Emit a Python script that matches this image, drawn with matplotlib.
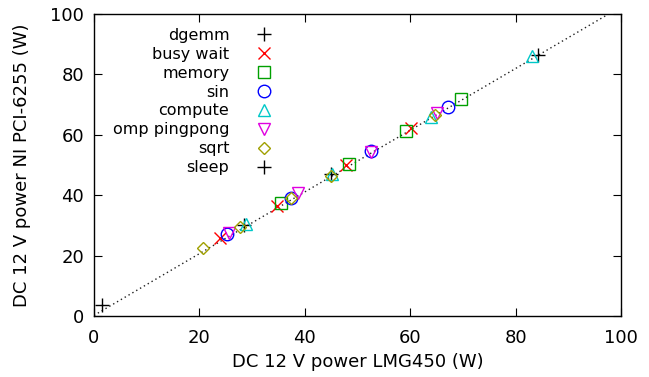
import numpy as np
import matplotlib
matplotlib.use('Agg')
import matplotlib.pyplot as plt

# valores (LMG450 x NI PCI-6255), em W
series = ['dgemm', 'busy wait', 'memory', 'sin', 'compute', 'omp pingpong', 'sqrt', 'sleep']

dgemm_x = [28.5, 45.0, 84.2]
dgemm_y = [30.0, 47.0, 86.5]
busy_x = [24.0, 34.7, 47.9, 60.1]
busy_y = [25.7, 36.4, 50.0, 62.2]
memory_x = [35.5, 48.3, 59.1, 69.6]
memory_y = [37.4, 50.2, 61.3, 71.8]
sin_x = [25.3, 37.4, 52.5, 67.2]
sin_y = [27.1, 39.2, 54.7, 69.3]
compute_x = [28.8, 45.2, 63.9, 83.1]
compute_y = [30.5, 47.0, 66.0, 86.2]
omp_x = [25.6, 38.8, 52.5, 65.0]
omp_y = [27.4, 40.8, 54.4, 67.1]
sqrt_x = [20.7, 27.7, 37.3, 44.9, 64.7]
sqrt_y = [22.4, 29.6, 39.0, 46.5, 66.5]
sleep_x = [1.5]
sleep_y = [3.6]

# reta de ajuste
fit_slope = 1.022
fit_offset = 0.2

xs = [dgemm_x, busy_x, memory_x, sin_x, compute_x, omp_x, sqrt_x, sleep_x]
ys = [dgemm_y, busy_y, memory_y, sin_y, compute_y, omp_y, sqrt_y, sleep_y]
markers = ['+', 'x', 's', 'o', '^', 'v', 'D', '+']
sizes = [10, 9, 8, 9, 8, 8, 6, 10]
colors = ['black', '#ff0000', '#00a000', '#0000ff', '#00c8c8', '#e000e0', '#a0a000', 'black']

plt.rcParams['font.family'] = 'DejaVu Sans'
plt.rcParams['font.size'] = 13

fig = plt.figure(figsize=(6.49, 3.77), dpi=100)
ax = fig.add_axes([0.1448, 0.1618, 0.8122, 0.8012])

line_x = np.linspace(0, 100, 200)
line_y = fit_slope * line_x + fit_offset
ax.plot(line_x, line_y, color='#202020', linestyle=(0, (1, 2.2)), linewidth=1.0, zorder=1)

for name, x, y, m, s, c in zip(series, xs, ys, markers, sizes, colors):
    if m in ('+', 'x'):
        ax.plot(x, y, linestyle='none', marker=m, markersize=s, color=c,
                markeredgewidth=1.0, label=name, zorder=3)
    else:
        ax.plot(x, y, linestyle='none', marker=m, markersize=s, markerfacecolor='none',
                markeredgecolor=c, markeredgewidth=1.0, label=name, zorder=3)

ax.set_xlim(0, 100)
ax.set_ylim(0, 100)
ax.set_xticks(np.arange(0, 101, 20))
ax.set_yticks(np.arange(0, 101, 20))
ax.tick_params(direction='in', top=True, right=True, length=6, width=0.8, pad=7)
ax.tick_params(axis='x', pad=9)
for sp in ax.spines.values():
    sp.set_linewidth(1.0)

ax.set_xlabel('DC 12 V power LMG450 (W)', labelpad=5)
ax.set_ylabel('DC 12 V power NI PCI-6255 (W)', labelpad=14)

ax.legend(loc='upper left', bbox_to_anchor=(0.01, 1.0), markerfirst=False, frameon=False,
          numpoints=1, handlelength=1.2, handletextpad=1.6, labelspacing=0.25,
          borderaxespad=0.45, fontsize=11.5)

plt.savefig('out.png', dpi=100)
